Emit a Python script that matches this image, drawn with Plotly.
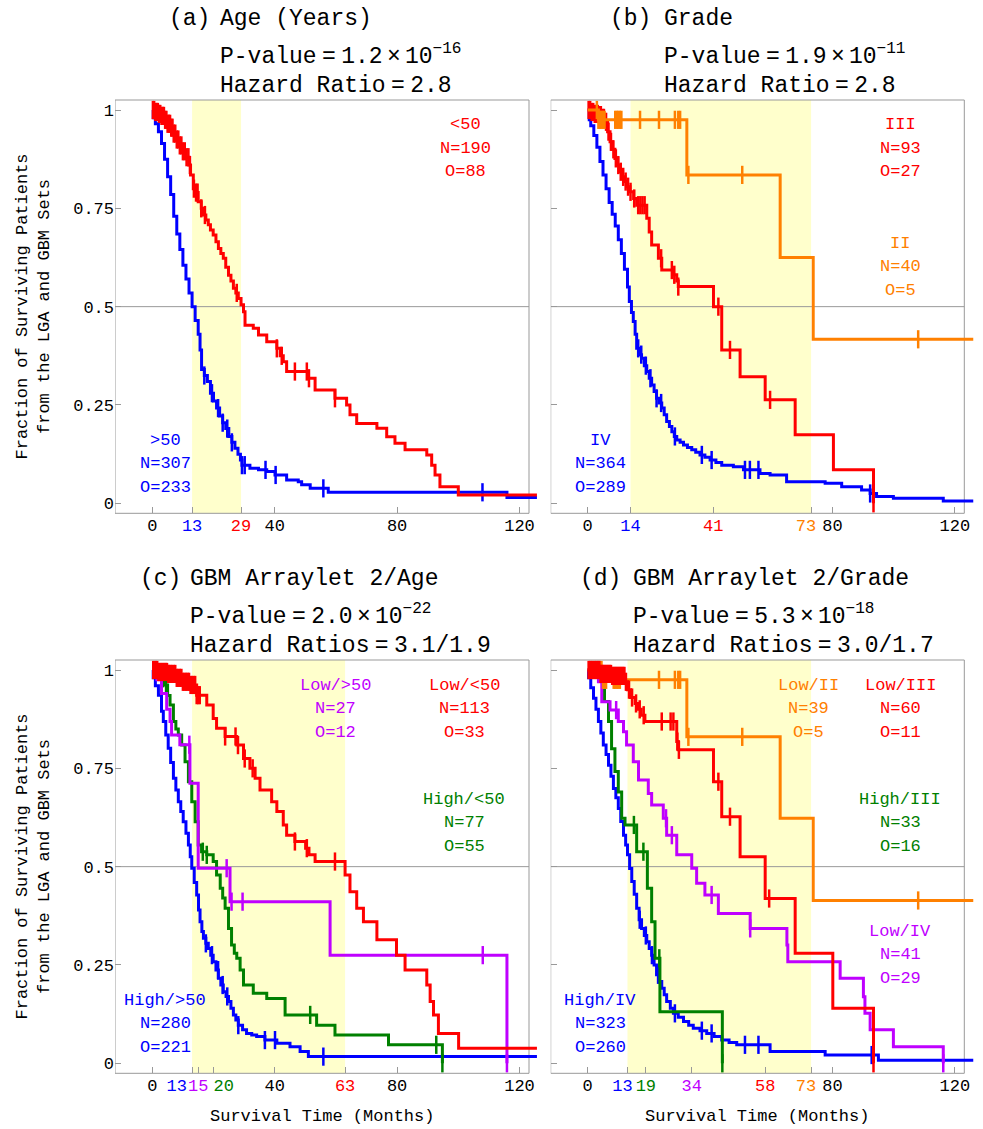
import plotly.graph_objects as go

W, H = 983, 1129
FONT = "Liberation Mono"
BLUE, RED, ORANGE, GREEN, PURPLE = "#0000FF", "#FF0000", "#FF8000", "#008000", "#BF00FF"

# ---------------- data ----------------
# (a) Age
a_gt50_t = [0, 0.3, 1, 2, 3, 4, 5, 6, 7, 8, 9, 10, 11, 12, 13, 14, 15, 15.6, 16.1, 17, 18, 19, 20, 21, 22, 23, 24, 25, 26, 27, 28, 28.8, 29.3, 31.9, 34.7, 37.4, 40.1, 43.9, 47.7, 48.8, 51.6, 57.5, 115.9, 125.7]
a_gt50_s = [1.0, 0.98, 0.965, 0.945, 0.915, 0.875, 0.83, 0.785, 0.73, 0.685, 0.645, 0.605, 0.57, 0.535, 0.50, 0.465, 0.43, 0.39, 0.34, 0.325, 0.31, 0.28, 0.26, 0.242, 0.222, 0.205, 0.19, 0.17, 0.155, 0.14, 0.125, 0.11, 0.097, 0.089, 0.085, 0.081, 0.072, 0.059, 0.055, 0.047, 0.038, 0.028, 0.015, 0.015]
a_gt50_cens = [17.0, 19.5, 21.5, 23.0, 24.5, 26.0, 29.3, 30.2, 37.0, 40.3, 55.9, 107.9]

a_lt50_t = [0, 1, 2, 3, 4, 5, 6, 7, 8, 9, 10, 11, 12, 12.5, 13.4, 14, 15, 16, 16.7, 17.5, 18.3, 19, 19.9, 20.8, 21.6, 22.4, 23.2, 24, 24.9, 25.7, 26.5, 27.3, 28.1, 29, 29.8, 30.3, 33.0, 34.7, 37.4, 40.7, 41.8, 42.8, 43.9, 51.0, 53.2, 59.7, 63.5, 64.6, 66.8, 73.4, 76.6, 79.3, 82.6, 89.7, 91.3, 92.4, 94.0, 100.0, 125.7]
a_lt50_s = [1.0, 0.995, 0.99, 0.985, 0.975, 0.965, 0.955, 0.94, 0.925, 0.91, 0.895, 0.88, 0.86, 0.835, 0.80, 0.79, 0.767, 0.75, 0.733, 0.72, 0.708, 0.695, 0.682, 0.665, 0.648, 0.635, 0.623, 0.60, 0.58, 0.565, 0.547, 0.535, 0.521, 0.505, 0.487, 0.453, 0.445, 0.428, 0.411, 0.394, 0.375, 0.36, 0.335, 0.318, 0.288, 0.267, 0.25, 0.225, 0.203, 0.191, 0.169, 0.153, 0.136, 0.123, 0.097, 0.072, 0.042, 0.021, 0.021]
a_lt50_cens = [0.2, 0.6, 1.0, 1.4, 1.8, 2.2, 2.6, 3.0, 3.4, 3.8, 4.2, 4.6, 5.0, 5.4, 5.8, 6.2, 6.6, 7.0, 7.5, 8.0, 8.5, 9.0, 9.5, 10.0, 10.6, 11.2, 11.8, 12.3, 13.6, 14.3, 14.8, 16.0, 17.2, 27.6, 40.7, 42.3, 46.6, 50.5, 51.2, 59.7]

# (b) Grade
b_iv_t = [0, 0.5, 1, 2, 3, 4, 5, 6, 7, 8, 9, 10, 11, 12, 13, 13.6, 14.3, 14.9, 15.5, 16.0, 17.0, 17.6, 18.5, 19.3, 20.1, 20.9, 21.7, 22.5, 23.3, 24.2, 25.0, 25.8, 26.7, 27.5, 28.3, 29.1, 30.2, 31.3, 32.6, 34.0, 35.3, 36.7, 38.3, 40.0, 41.9, 43.8, 47.6, 50.9, 56.3, 59.6, 65.0, 77.6, 83.0, 89.5, 92.3, 94.4, 99.9, 116.2, 126.0]
b_iv_s = [1.0, 0.975, 0.96, 0.935, 0.905, 0.869, 0.835, 0.80, 0.765, 0.735, 0.705, 0.67, 0.635, 0.595, 0.55, 0.513, 0.485, 0.462, 0.43, 0.394, 0.378, 0.369, 0.35, 0.335, 0.318, 0.301, 0.284, 0.267, 0.255, 0.242, 0.225, 0.208, 0.195, 0.182, 0.17, 0.161, 0.155, 0.148, 0.142, 0.136, 0.13, 0.123, 0.117, 0.110, 0.104, 0.097, 0.093, 0.085, 0.076, 0.072, 0.055, 0.051, 0.042, 0.034, 0.025, 0.017, 0.013, 0.006, 0.006]
b_iv_cens = [16.5, 17.5, 19.0, 20.5, 22.5, 24.0, 28.5, 37.3, 40.5, 51.4, 53.0, 55.8, 92.3]

b_iii_t = [0, 1, 2, 3.5, 4.5, 5.7, 6.5, 7.3, 8.1, 8.9, 9.8, 10.6, 11.4, 12.2, 13.0, 13.8, 15.0, 16.0, 19.3, 20.1, 20.9, 23.1, 24.2, 28.0, 29.1, 29.6, 41.1, 43.8, 49.8, 58.0, 67.8, 80.3, 93.4]
b_iii_s = [1.0, 0.995, 0.99, 0.987, 0.98, 0.97, 0.945, 0.919, 0.90, 0.877, 0.86, 0.843, 0.83, 0.818, 0.805, 0.792, 0.775, 0.758, 0.725, 0.69, 0.657, 0.623, 0.593, 0.581, 0.565, 0.551, 0.50, 0.39, 0.322, 0.263, 0.174, 0.085, 0.0]
b_iii_cens = [0.3, 0.8, 1.3, 1.8, 2.3, 2.8, 3.3, 3.8, 4.3, 4.8, 5.3, 6.0, 6.8, 7.6, 8.4, 9.2, 10.0, 10.8, 11.6, 12.4, 13.2, 14.0, 15.2, 16.5, 17.2, 17.9, 18.6, 24.0, 27.5, 28.3, 29.6, 42.7, 46.5, 59.6, 93.4]

b_ii_t = [0, 3.5, 32.4, 62.9, 73.7, 126.0]
b_ii_s = [1.0, 0.975, 0.835, 0.625, 0.417, 0.417]
b_ii_cens = [3.0, 3.5, 4.0, 4.5, 5.0, 5.5, 9.0, 9.5, 10.0, 10.5, 11.0, 17.1, 23.3, 28.5, 29.6, 30.2, 32.9, 50.5, 108.0]

# (c) GBM Arraylet 2 / Age
c_hi_gt50_t = [0, 0.3, 1, 2, 3, 3.6, 4.4, 5.2, 6.0, 6.9, 7.7, 8.5, 9.3, 10.1, 11.0, 11.8, 12.4, 12.9, 13.7, 14.5, 15.1, 15.6, 16.2, 16.7, 17.5, 18.3, 19.1, 19.9, 20.8, 21.6, 22.4, 23.2, 24.1, 24.9, 25.7, 26.5, 27.3, 28.1, 29.5, 30.8, 32.5, 34.1, 36.8, 40.7, 45.0, 48.3, 51.0, 125.7]
c_hi_gt50_s = [1.0, 0.98, 0.96, 0.936, 0.895, 0.869, 0.835, 0.801, 0.765, 0.725, 0.695, 0.665, 0.64, 0.614, 0.585, 0.555, 0.525, 0.496, 0.46, 0.428, 0.39, 0.36, 0.335, 0.318, 0.305, 0.292, 0.275, 0.258, 0.237, 0.216, 0.199, 0.182, 0.17, 0.157, 0.14, 0.123, 0.11, 0.097, 0.085, 0.076, 0.072, 0.068, 0.059, 0.051, 0.042, 0.030, 0.017, 0.017]
c_hi_gt50_cens = [17.5, 19.5, 21.5, 23.0, 24.5, 28.1, 36.8, 40.1, 55.9]

c_hi_lt50_t = [0, 2.5, 4.1, 5.0, 5.8, 6.9, 7.7, 8.5, 9.6, 10.7, 11.8, 12.9, 14.0, 15.0, 16.1, 17.8, 19.9, 21.0, 22.2, 23.0, 23.8, 24.9, 25.9, 26.8, 27.6, 28.7, 29.8, 33.0, 37.4, 43.4, 53.7, 59.7, 77.2, 94.8]
c_hi_lt50_s = [1.0, 0.979, 0.962, 0.935, 0.911, 0.869, 0.85, 0.835, 0.809, 0.767, 0.716, 0.665, 0.614, 0.555, 0.538, 0.53, 0.513, 0.479, 0.445, 0.42, 0.394, 0.343, 0.301, 0.28, 0.267, 0.237, 0.199, 0.178, 0.165, 0.123, 0.097, 0.072, 0.047, 0.0]
c_hi_lt50_cens = [3.5, 4.5, 16.5, 17.8, 51.6, 92.8, 94.8]

c_lo_gt50_t = [0, 1.5, 3.0, 4.7, 5.8, 6.3, 9.0, 12.3, 15.0, 25.4, 58.1, 115.9]
c_lo_gt50_s = [1.0, 0.975, 0.94, 0.90, 0.869, 0.835, 0.81, 0.712, 0.496, 0.411, 0.275, 0.0]
c_lo_gt50_cens = [12.1, 24.3, 25.9, 29.5, 108.0, 115.9]

c_lo_lt50_t = [0, 2, 5, 8, 10, 12.3, 14.5, 17.8, 19.9, 21.0, 23.8, 27.6, 29.8, 31.9, 33.6, 35.2, 39.0, 40.7, 42.8, 43.9, 46.6, 50.1, 51.2, 53.2, 63.0, 64.6, 66.8, 69.0, 73.4, 79.8, 82.6, 89.7, 90.8, 91.9, 93.5, 100.1, 125.7]
c_lo_lt50_s = [1.0, 0.995, 0.99, 0.98, 0.97, 0.962, 0.936, 0.911, 0.877, 0.852, 0.831, 0.809, 0.775, 0.75, 0.725, 0.695, 0.665, 0.640, 0.606, 0.580, 0.564, 0.547, 0.530, 0.513, 0.479, 0.436, 0.394, 0.36, 0.314, 0.275, 0.237, 0.199, 0.157, 0.123, 0.076, 0.038, 0.038]
c_lo_lt50_cens = [0.3, 0.8, 1.2, 1.6, 2.0, 2.4, 2.8, 3.2, 3.6, 4.0, 4.4, 4.8, 5.2, 5.6, 6.0, 6.5, 7.0, 7.5, 8.0, 8.5, 9.0, 9.5, 10.0, 10.5, 11.0, 11.5, 12.0, 12.5, 13.0, 13.5, 14.0, 14.5, 15.0, 15.5, 23.8, 27.2, 28.0, 30.2, 32.8, 46.6, 50.5, 59.7]

# (d) GBM Arraylet 2 / Grade
d_hi_iv_t = [0, 0.3, 1, 1.9, 2.7, 3.5, 4.3, 5.1, 6.0, 6.8, 7.6, 8.4, 9.2, 10.0, 10.8, 11.7, 12.4, 13.0, 13.7, 14.4, 15.2, 16.0, 16.8, 17.6, 18.5, 19.3, 20.1, 20.9, 21.7, 22.5, 23.4, 24.2, 25.0, 25.8, 27.0, 28.0, 29.6, 31.3, 33.0, 34.5, 36.7, 38.9, 41.3, 43.8, 46.2, 48.7, 59.6, 77.6, 95.0, 126.0]
d_hi_iv_s = [1.0, 0.98, 0.955, 0.928, 0.9, 0.869, 0.84, 0.809, 0.785, 0.758, 0.73, 0.699, 0.675, 0.648, 0.615, 0.58, 0.555, 0.53, 0.495, 0.462, 0.43, 0.394, 0.365, 0.343, 0.325, 0.309, 0.292, 0.275, 0.25, 0.225, 0.208, 0.191, 0.174, 0.157, 0.14, 0.127, 0.117, 0.106, 0.097, 0.089, 0.083, 0.076, 0.068, 0.059, 0.053, 0.047, 0.030, 0.021, 0.008, 0.008]
d_hi_iv_cens = [17.0, 19.0, 21.0, 23.0, 28.5, 37.3, 40.5, 51.4, 55.8, 92.8]

d_hi_iii_t = [0, 4.6, 5.5, 6.8, 7.8, 8.9, 10.0, 11.1, 12.2, 16.0, 19.5, 20.9, 22.0, 23.6, 44.0]
d_hi_iii_s = [1.0, 0.97, 0.92, 0.869, 0.80, 0.742, 0.69, 0.623, 0.606, 0.538, 0.445, 0.36, 0.267, 0.131, 0.0]
d_hi_iii_cens = [15.1, 18.2, 23.4, 44.0]

d_lo_iv_t = [0, 3.5, 4.6, 7.3, 10.0, 11.7, 12.7, 14.9, 16.6, 19.8, 20.9, 24.7, 25.8, 29.1, 34.0, 35.6, 38.3, 42.7, 53.1, 65.1, 65.4, 82.5, 90.1, 90.6, 92.3, 99.9, 116.2]
d_lo_iv_s = [1.0, 0.97, 0.919, 0.898, 0.869, 0.843, 0.809, 0.767, 0.72, 0.686, 0.657, 0.623, 0.580, 0.530, 0.496, 0.458, 0.428, 0.381, 0.343, 0.301, 0.258, 0.216, 0.169, 0.127, 0.085, 0.042, 0.0]
d_lo_iv_cens = [9.3, 25.6, 27.5, 40.5, 53.1, 116.2]

d_lo_ii_t = [0, 4.6, 32.4, 62.9, 73.7, 126.0]
d_lo_ii_s = [1.0, 0.975, 0.83, 0.623, 0.414, 0.414]
d_lo_ii_cens = [4.0, 4.5, 5.0, 5.5, 6.0, 8.5, 9.0, 9.5, 10.0, 10.5, 23.3, 28.5, 29.6, 30.2, 32.9, 50.5, 108.0]

d_lo_iii_t = [0, 4, 8, 12.2, 13.0, 14.0, 15.5, 16.6, 17.5, 18.7, 29.1, 29.6, 41.1, 43.8, 49.8, 58.0, 67.8, 80.1, 93.4]
d_lo_iii_s = [1.0, 0.99, 0.985, 0.97, 0.95, 0.93, 0.915, 0.90, 0.885, 0.869, 0.818, 0.797, 0.716, 0.627, 0.525, 0.419, 0.28, 0.14, 0.0]
d_lo_iii_cens = [0.3, 0.7, 1.0, 1.4, 1.7, 2.1, 2.4, 2.8, 3.1, 3.5, 3.8, 4.2, 4.5, 4.9, 5.2, 5.6, 6.0, 6.4, 6.8, 7.2, 7.6, 8.0, 8.4, 8.8, 9.2, 9.6, 10.0, 10.4, 10.8, 11.2, 11.6, 12.0, 12.5, 13.5, 14.5, 15.8, 17.0, 18.3, 24.2, 27.1, 28.0, 29.3, 29.8, 42.7, 46.5, 59.3, 93.4]

# shaded intervals (months)
a_band = [13, 29]
b_band = [14, 73]
c_band = [13, 63]
d_band = [13, 73]

# x tick values / colours
a_ticks = [0, 13, 29, 40, 80, 120]
a_tick_colors = ["black", BLUE, RED, "black", "black", "black"]
b_ticks = [0, 14, 41, 73, 80, 120]
b_tick_colors = ["black", BLUE, RED, ORANGE, "black", "black"]
c_ticks = [0, 13, 15, 20, 40, 63, 80, 120]
c_tick_colors = ["black", BLUE, PURPLE, GREEN, "black", RED, "black", "black"]
d_ticks = [0, 13, 19, 34, 58, 73, 80, 120]
d_tick_colors = ["black", BLUE, GREEN, PURPLE, RED, ORANGE, "black", "black"]
y_ticks = [0, 0.25, 0.5, 0.75, 1]
y_tick_labels = ["0", "0.25", "0.5", "0.75", "1"]

# ---------------- geometry ----------------
SX, SY, TMAX = 3.06, 393.3, 126.8
PANELS = {
    "a": dict(n=1, zero=152.3, fl=115.0, fr=529.0, top=100.0, bot=513.3, y0=503.3),
    "b": dict(n=2, zero=587.7, fl=550.7, fr=964.3, top=100.0, bot=513.3, y0=503.3),
    "c": dict(n=3, zero=152.3, fl=115.0, fr=529.0, top=660.0, bot=1073.3, y0=1063.3),
    "d": dict(n=4, zero=587.7, fl=550.7, fr=964.3, top=660.0, bot=1073.3, y0=1063.3),
}


def step_at(ts, ss, t):
    v = ss[0]
    for ti, si in zip(ts, ss):
        if ti <= t:
            v = si
        else:
            break
    return v


fig = go.Figure()
shapes, annotations = [], []


def add_curve(p, ts, ss, cens, color):
    n = PANELS[p]["n"]
    xa, ya = ("x", "y") if n == 1 else (f"x{n}", f"y{n}")
    fig.add_trace(go.Scatter(x=ts, y=ss, mode="lines", xaxis=xa, yaxis=ya,
                             line=dict(shape="hv", width=3, color=color),
                             showlegend=False, hoverinfo="skip"))
    fig.add_trace(go.Scatter(x=cens, y=[step_at(ts, ss, c) for c in cens], mode="markers",
                             xaxis=xa, yaxis=ya, cliponaxis=False,
                             marker=dict(symbol="line-ns", size=13, color=color,
                                         line=dict(width=2.5, color=color)),
                             showlegend=False, hoverinfo="skip"))


def tick_text(vals, colors, pads):
    out = []
    for v, c in zip(vals, colors):
        lp, rp = pads.get(v, (0, 0))
        out.append("\u00a0" * lp + f'<span style="color:{c}">{v}</span>' + "\u00a0" * rp)
    return out


axis_ticks = {
    "a": (a_ticks, a_tick_colors, {}),
    "b": (b_ticks, b_tick_colors, {73: (0, 1)}),
    "c": (c_ticks, c_tick_colors, {13: (0, 3), 20: (2, 0)}),
    "d": (d_ticks, d_tick_colors, {13: (0, 1), 73: (0, 1)}),
}
bands = {"a": a_band, "b": b_band, "c": c_band, "d": d_band}

layout_axes = {}
for p, g in PANELS.items():
    n = g["n"]
    t_left = (g["fl"] - g["zero"]) / SX
    t_right = (g["fr"] - g["zero"]) / SX
    dom_r = g["zero"] + TMAX * SX
    yr = [(g["y0"] - g["bot"]) / SY, (g["y0"] - g["top"]) / SY]
    xk = "xaxis" if n == 1 else f"xaxis{n}"
    yk = "yaxis" if n == 1 else f"yaxis{n}"
    xid = "x" if n == 1 else f"x{n}"
    yid = "y" if n == 1 else f"y{n}"
    tv, tc, pads = axis_ticks[p]
    layout_axes[xk] = dict(domain=[g["fl"] / W, dom_r / W], range=[t_left, TMAX], anchor=yid,
                           showgrid=False, zeroline=False, showline=False,
                           ticks="inside", ticklen=6, tickwidth=1, tickcolor="#999999",
                           tickvals=tv, ticktext=tick_text(tv, tc, pads), tickangle=0,
                           tickfont=dict(family=FONT, size=17, color="black"))
    layout_axes[yk] = dict(domain=[1 - g["bot"] / H, 1 - g["top"] / H], range=yr, anchor=xid,
                           showgrid=False, zeroline=False, showline=False,
                           ticks="inside", ticklen=6, tickwidth=1, tickcolor="#999999",
                           tickvals=y_ticks, ticktext=y_tick_labels,
                           showticklabels=(p in ("a", "c")),
                           tickfont=dict(family=FONT, size=17, color="black"))
    band = bands[p]
    shapes.append(dict(type="rect", xref=xid, yref=f"{yid} domain", x0=band[0], x1=band[1], y0=0, y1=1,
                       fillcolor="#FFFFCC", line=dict(width=0), layer="below"))
    shapes.append(dict(type="line", xref=xid, yref=yid, x0=t_left, x1=t_right, y0=0.5, y1=0.5,
                       line=dict(color="#999999", width=1), layer="below"))
    shapes.append(dict(type="rect", xref=xid, yref=f"{yid} domain", x0=t_left, x1=t_right, y0=0, y1=1,
                       line=dict(color="#999999", width=1), fillcolor="rgba(0,0,0,0)", layer="below"))

# curves (drawing order matters)
add_curve("a", a_gt50_t, a_gt50_s, a_gt50_cens, BLUE)
add_curve("a", a_lt50_t, a_lt50_s, a_lt50_cens, RED)
add_curve("b", b_iv_t, b_iv_s, b_iv_cens, BLUE)
add_curve("b", b_iii_t, b_iii_s, b_iii_cens, RED)
add_curve("b", b_ii_t, b_ii_s, b_ii_cens, ORANGE)
add_curve("c", c_hi_gt50_t, c_hi_gt50_s, c_hi_gt50_cens, BLUE)
add_curve("c", c_hi_lt50_t, c_hi_lt50_s, c_hi_lt50_cens, GREEN)
add_curve("c", c_lo_gt50_t, c_lo_gt50_s, c_lo_gt50_cens, PURPLE)
add_curve("c", c_lo_lt50_t, c_lo_lt50_s, c_lo_lt50_cens, RED)
add_curve("d", d_hi_iv_t, d_hi_iv_s, d_hi_iv_cens, BLUE)
add_curve("d", d_hi_iii_t, d_hi_iii_s, d_hi_iii_cens, GREEN)
add_curve("d", d_lo_iv_t, d_lo_iv_s, d_lo_iv_cens, PURPLE)
add_curve("d", d_lo_ii_t, d_lo_ii_s, d_lo_ii_cens, ORANGE)
add_curve("d", d_lo_iii_t, d_lo_iii_s, d_lo_iii_cens, RED)


def ann(text, x, y, color="black", size=17, xanchor="center", **kw):
    annotations.append(dict(text=text, x=x / W, y=1 - y / H, xref="paper", yref="paper",
                            xanchor=xanchor, yanchor="middle", showarrow=False,
                            font=dict(family=FONT, size=size, color=color), **kw))


EQ = '<span style="font-size:9px"> </span>=<span style="font-size:9px"> </span>'
SP = '<span style="font-size:7px"> </span>'


def pval(m, e):
    return f"P-value{EQ}{m}{SP}×{SP}10<sup>−{e}</sup>"


titles = [
    ("(a)", "Age (Years)", pval("1.2", 16), f"Hazard Ratio{EQ}2.8", 167, 218, 0),
    ("(b)", "Grade", pval("1.9", 11), f"Hazard Ratio{EQ}2.8", 608, 662, 0),
    ("(c)", "GBM Arraylet 2/Age", pval("2.0", 22), f"Hazard Ratios{EQ}3.1/1.9", 138, 188, 560),
    ("(d)", "GBM Arraylet 2/Grade", pval("5.3", 18), f"Hazard Ratios{EQ}3.0/1.7", 578, 631, 560),
]
for lab, t1, t2, t3, xl, xm, dy in titles:
    ann(lab, xl, 19 + dy, size=23, xanchor="left")
    ann(t1, xm, 19 + dy, size=23, xanchor="left")
    ann(t2, xm, 55 + dy, size=23, xanchor="left")
    ann(t3, xm, 86 + dy, size=23, xanchor="left")


def group(lines, x, y, color):
    for i, l in enumerate(lines):
        ann(l, x, y + i * 23.5, color=color)


group(["&lt;50", "N=190", "O=88"], 465, 125, RED)
group(["&gt;50", "N=307", "O=233"], 165, 440, BLUE)
group(["III", "N=93", "O=27"], 900, 125, RED)
group(["II", "N=40", "O=5"], 900, 243, ORANGE)
group(["IV", "N=364", "O=289"], 600, 440, BLUE)
group(["Low/&gt;50", "N=27", "O=12"], 335, 685, PURPLE)
group(["Low/&lt;50", "N=113", "O=33"], 464, 685, RED)
group(["High/&lt;50", "N=77", "O=55"], 464, 799, GREEN)
group(["High/&gt;50", "N=280", "O=221"], 165, 1000, BLUE)
group(["Low/II", "N=39", "O=5"], 808, 685, ORANGE)
group(["Low/III", "N=60", "O=11"], 900, 685, RED)
group(["High/III", "N=33", "O=16"], 900, 799, GREEN)
group(["Low/IV", "N=41", "O=29"], 900, 931, PURPLE)
group(["High/IV", "N=323", "O=260"], 600, 1000, BLUE)

# axis titles
for yc in (307, 867):
    ann("Fraction of Surviving Patients<br>from the LGA and GBM Sets", 32.5, yc, textangle=-90)
for xc in (322, 757):
    ann("Survival Time (Months)", xc, 1116)

fig.update_layout(width=W, height=H, autosize=False, margin=dict(l=0, r=0, t=0, b=0),
                  paper_bgcolor="white", plot_bgcolor="white", showlegend=False,
                  shapes=shapes, annotations=annotations, **layout_axes)
fig.write_html("out.html", config={"displayModeBar": False, "staticPlot": True},
               post_script="document.body.style.margin='0px';document.body.style.overflow='hidden';")
